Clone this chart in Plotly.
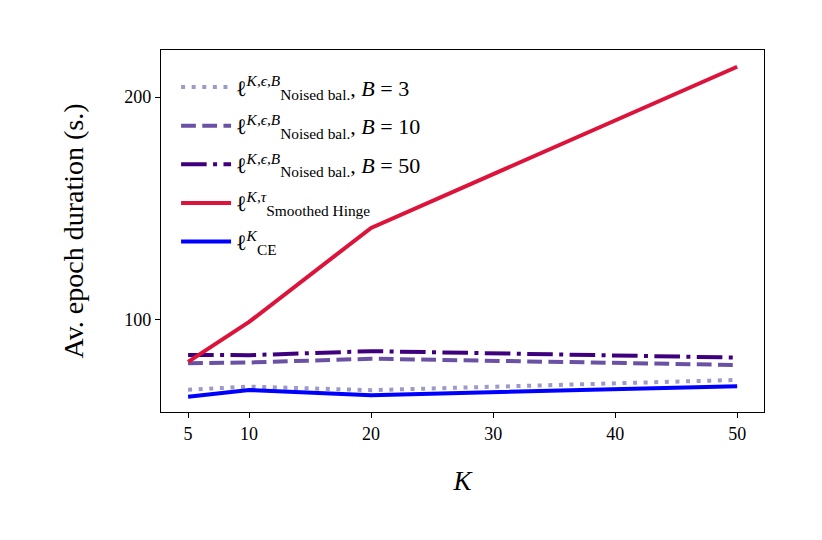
import plotly.graph_objects as go

K = [5, 10, 20, 50]
noised_b3 = [68.7, 70.1, 68.5, 73.1]
noised_b10 = [80.6, 80.9, 82.6, 79.8]
noised_b50 = [84.3, 84.2, 86.0, 83.1]
smoothed_hinge = [81.2, 99.1, 141.3, 213.6]
ce = [65.5, 68.6, 66.2, 70.3]

x_ticks = [5, 10, 20, 30, 40, 50]
y_ticks = [100, 200]

FONT = "Liberation Serif"

names = [
    "ℓ<sup><i>K,ϵ,B</i></sup><sub>Noised bal.</sub>, <i>B</i> = 3",
    "ℓ<sup><i>K,ϵ,B</i></sup><sub>Noised bal.</sub>, <i>B</i> = 10",
    "ℓ<sup><i>K,ϵ,B</i></sup><sub>Noised bal.</sub>, <i>B</i> = 50",
    "ℓ<sup><i>K,τ</i></sup><sub>Smoothed Hinge</sub>",
    "ℓ<sup><i>K</i></sup><sub>CE</sub>",
]
series = [noised_b3, noised_b10, noised_b50, smoothed_hinge, ce]
colors = ["#9e9ac8", "#6a51a3", "#3f007d", "#dc143c", "#0000ff"]
dashes = ["4px,6.6px", "14.8px,6.4px", "25.6px,6.4px,4px,6.4px", "solid", "solid"]

fig = go.Figure()
for i, (n, s, c, d) in enumerate(zip(names, series, colors, dashes)):
    fig.add_trace(go.Scatter(x=K, y=s, mode="lines", name=n, legendgroup=f"g{i}",
                             line=dict(color=c, width=4, dash=d)))

fig.update_layout(
    width=822, height=540,
    margin=dict(l=153, r=66, t=42, b=136),
    paper_bgcolor="white", plot_bgcolor="white",
    font=dict(family=FONT, color="black", size=19),
    showlegend=True,
    legend=dict(x=0.025, y=0.955, xanchor="left", yanchor="top",
                bgcolor="rgba(0,0,0,0)", font=dict(size=22, family=FONT),
                itemwidth=50, tracegroupgap=7),
)
fig.update_xaxes(range=[2.78, 52.2], tickvals=x_ticks, ticktext=[str(v) for v in x_ticks],
                 showgrid=False, zeroline=False, showline=True, linecolor="black",
                 linewidth=1.2, mirror=True, ticks="outside", ticklen=5, tickcolor="black",
                 tickfont=dict(size=18),
                 title=dict(text="<i>K</i>", font=dict(size=27), standoff=28))
fig.update_yaxes(range=[58.7, 221.1], tickvals=y_ticks, ticktext=[str(v) for v in y_ticks],
                 showgrid=False, zeroline=False, showline=True, linecolor="black",
                 linewidth=1.2, mirror=True, ticks="outside", ticklen=5, tickcolor="black",
                 tickfont=dict(size=18),
                 title=dict(text="Av. epoch duration (s.)", font=dict(size=28), standoff=32))

fig.write_html("out.html")
